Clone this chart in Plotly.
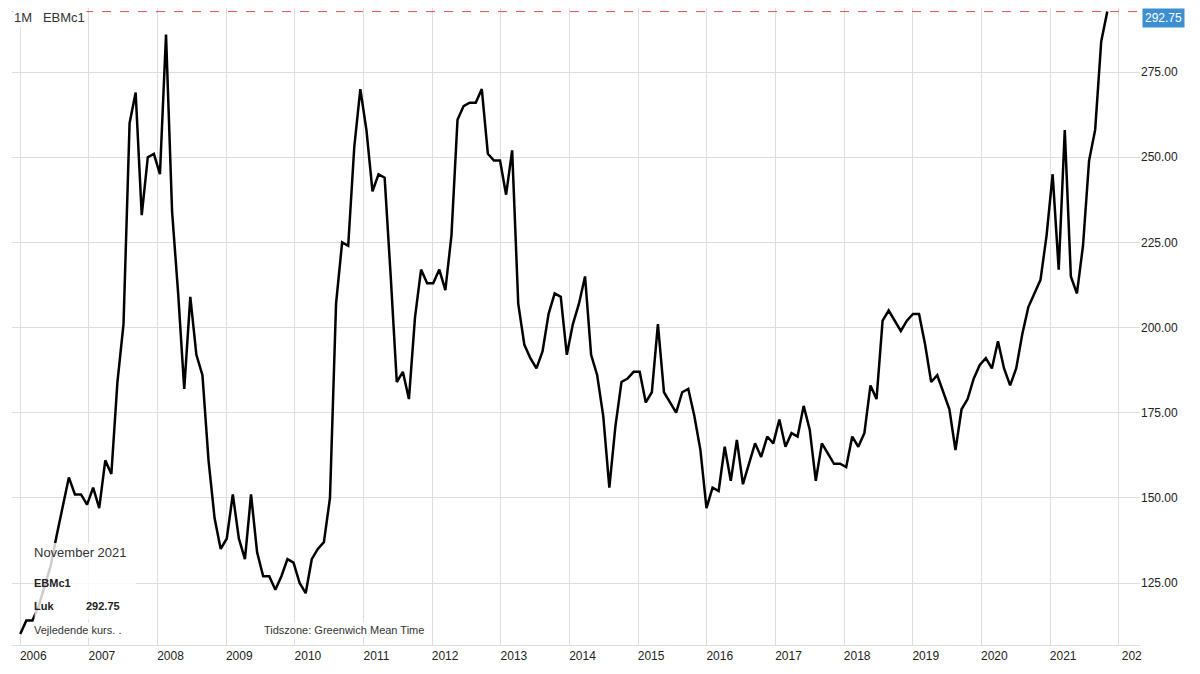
import pandas as pd
import plotly.graph_objects as go

# EBMc1 (milling wheat front month) closes, Jan 2006 - Nov 2021
closes = [110, 114, 114, 118, 124, 130, 139, 148, 156, 151, 151, 148, 153, 147, 161, 157, 184, 201,
          260, 269, 233, 250, 251, 245, 286, 234, 210, 182, 209, 192, 186, 161, 144, 135, 138, 151,
          138, 132, 151, 134, 127, 127, 123, 127, 132, 131, 125, 122, 132, 135, 137, 150, 207, 225,
          224, 253, 270, 258, 240, 245, 244, 215, 184, 187, 179, 203, 217, 213, 213, 217, 211, 227,
          261, 265, 266, 266, 270, 251, 249, 249, 239, 252, 207, 195, 191, 188, 193, 204, 210, 209,
          192, 201, 207, 215, 192, 186, 174, 153, 171, 184, 185, 187, 187, 178, 181, 201, 181, 178,
          175, 181, 182, 174, 164, 147, 153, 152, 165, 155, 167, 154, 160, 166, 162, 168, 166, 173,
          165, 169, 168, 177, 170, 155, 166, 163, 160, 160, 159, 168, 165, 169, 183, 179, 202, 205,
          202, 199, 202, 204, 204, 195, 184, 186, 181, 176, 164, 176, 179, 185, 189, 191, 188, 196,
          188, 183, 188, 198, 206, 210, 214, 227, 245, 217, 258, 215, 210, 224, 249, 258, 284, 292.75]
dates = pd.date_range(start="2006-01-01", end="2021-11-01", periods=len(closes))
last = closes[-1]
y_ticks = [125, 150, 175, 200, 225, 250, 275]
year_ticks = [f"{y}-01-01" for y in range(2006, 2023)]
year_labels = [str(y) for y in range(2006, 2022)] + ["202"]

fig = go.Figure()
fig.add_trace(go.Scatter(x=dates, y=closes, mode="lines",
                         line=dict(color="black", width=2.5), hoverinfo="skip"))
fig.add_hline(y=last, line=dict(color="#d9534f", width=1, dash="dash"))

fig.update_layout(
    width=1192, height=666, showlegend=False,
    plot_bgcolor="white", paper_bgcolor="white",
    margin=dict(l=4, r=60, t=0, b=29),
    font=dict(family="Liberation Sans, Arial", size=12, color="#222"),
    xaxis=dict(range=["2005-11-18", "2022-04-24"], tickvals=year_ticks, ticktext=year_labels,
               showgrid=True, gridcolor="#dedede", ticks="", showline=True, linecolor="#dedede",
               zeroline=False, tickfont=dict(size=12), ticklabelshift=13, ticklabelstandoff=0),
    yaxis=dict(range=[106.8, 293.8], side="right", tickvals=y_ticks, tickformat=".2f",
               showgrid=True, gridcolor="#dedede", zeroline=False, ticks="",
               tickfont=dict(size=12)),
)

fig.add_annotation(xref="paper", yref="paper", x=0, y=1, xanchor="left", yanchor="top",
                   text="1M   EBMc1", showarrow=False, font=dict(size=13, color="#333"),
                   bgcolor="white", xshift=0, yshift=0)
fig.add_annotation(xref="paper", yref="paper", x=1, y=1, xanchor="left", yanchor="top",
                   text=f"{last:.2f}", showarrow=False, bgcolor="#3d8fd1",
                   font=dict(color="white", size=12), borderpad=2, xshift=2, yshift=0)

# info box lower left
fig.add_shape(type="rect", xref="paper", yref="paper", x0=0.02, x1=0.11, y0=0.04, y1=0.16,
              fillcolor="rgba(255,255,255,0.8)", line=dict(width=0), layer="above")
fig.add_annotation(xref="paper", yref="paper", x=0.018, y=0.16, xanchor="left", yanchor="top",
                   text="November 2021", showarrow=False, font=dict(size=13, color="#333"))
fig.add_annotation(xref="paper", yref="paper", x=0.018, y=0.11, xanchor="left", yanchor="top",
                   text="<b>EBMc1</b>", showarrow=False, font=dict(size=11))
fig.add_annotation(xref="paper", yref="paper", x=0.018, y=0.074, xanchor="left", yanchor="top",
                   text="<b>Luk</b>", showarrow=False, font=dict(size=11))
fig.add_annotation(xref="paper", yref="paper", x=0.064, y=0.074, xanchor="left", yanchor="top",
                   text=f"<b>{last:.2f}</b>", showarrow=False, font=dict(size=11))
fig.add_annotation(xref="paper", yref="paper", x=0.018, y=0.036, xanchor="left", yanchor="top",
                   text="Vejledende kurs. .", showarrow=False, font=dict(size=11, color="#333"),
                   bgcolor="white")
fig.add_annotation(xref="paper", yref="paper", x=0.222, y=0.036, xanchor="left", yanchor="top",
                   text="Tidszone: Greenwich Mean Time", showarrow=False,
                   font=dict(size=11, color="#333"), bgcolor="white")

fig.write_html("out.html")
